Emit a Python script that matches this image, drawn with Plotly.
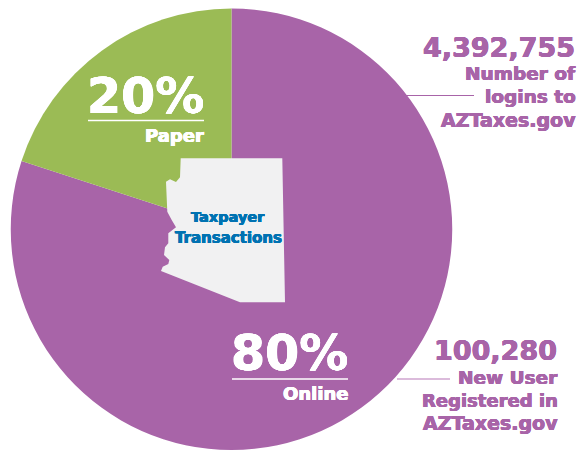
import plotly.graph_objects as go

W, H = 579, 450
categories = ["Online", "Paper"]
shares = [80, 20]
slice_colors = ["#A864A8", "#9BBB55"]
logins = "4,392,755"
new_users = "100,280"

PURPLE = "#A864A8"
BLUE = "#0072B2"
BOLD = "DejaVu Sans"


def px(x):
    return x / W


def py(y):
    return 1 - y / H


fig = go.Figure(go.Pie(
    labels=categories, values=shares, sort=False, direction="clockwise", rotation=0,
    marker=dict(colors=slice_colors, line=dict(width=0)),
    textinfo="none", hoverinfo="label+percent", showlegend=False,
    domain=dict(x=[px(10.5), px(452.5)], y=[py(450), py(8.5)]),
))

arizona = [(180.7, 158.3), (282.3, 158.3), (285, 302.3), (240, 302.3), (161, 271), (162.7, 266.7),
           (168.3, 264), (169.3, 260), (164, 255), (165, 247.3), (168.3, 243.3), (168.3, 233.3),
           (176, 227.3), (171.7, 220), (167.3, 211.7), (166.7, 198.3), (166, 181.7), (170, 179.3),
           (176, 182), (180, 177.3)]
path = "M " + " L ".join(f"{px(x):.5f},{py(y):.5f}" for x, y in arizona) + " Z"

shapes = [
    dict(type="path", xref="paper", yref="paper", path=path, fillcolor="#F1F1F2", line=dict(width=0), layer="above"),
    dict(type="line", xref="paper", yref="paper", x0=px(88), x1=px(204), y0=py(120.5), y1=py(120.5), line=dict(color="white", width=1.5)),
    dict(type="line", xref="paper", yref="paper", x0=px(232), x1=px(348), y0=py(379), y1=py(379), line=dict(color="white", width=1.5)),
    dict(type="line", xref="paper", yref="paper", x0=px(406), x1=px(474), y0=py(95.5), y1=py(95.5), line=dict(color=PURPLE, width=1)),
    dict(type="line", xref="paper", yref="paper", x0=px(397), x1=px(450), y0=py(379), y1=py(379), line=dict(color="#CFA5CF", width=1.5)),
]

# text, right/centre x, centre y, size, colour, anchor, family
labels = [
    ("20%", 205, 97, 49, "white", "right", BOLD),
    ("Paper", 205, 135, 18, "white", "right", BOLD),
    ("80%", 349, 353, 49, "white", "right", BOLD),
    ("Online", 349, 393, 18, "white", "right", BOLD),
    ("Taxpayer", 228, 217, 14.5, BLUE, "center", BOLD),
    ("Transactions", 228, 238, 15, BLUE, "center", BOLD),
    (logins, 576, 47, 27, PURPLE, "right", BOLD),
    ("Number of", 577, 73, 18.5, PURPLE, "right", BOLD),
    ("logins to", 577, 97, 18.5, PURPLE, "right", BOLD),
    ("AZTaxes.gov", 577, 120, 19, PURPLE, "right", BOLD),
    (new_users, 558, 350, 27, PURPLE, "right", BOLD),
    ("New User", 559, 377, 18.5, PURPLE, "right", BOLD),
    ("Registered in", 559, 400, 18, PURPLE, "right", BOLD),
    ("AZTaxes.gov", 559, 423, 19, PURPLE, "right", BOLD),
]


def heavy(c, d=0.4):
    return f"{d}px 0 0 {c}, -{d}px 0 0 {c}, 0 {d}px 0 {c}, 0 -{d}px 0 {c}"


annotations = [
    dict(text=f"<b>{t}</b>", xref="paper", yref="paper", x=px(x), y=py(y), xanchor=a, yanchor="middle",
         showarrow=False, borderpad=0, font=dict(size=s, color=c, family=f, shadow=heavy(c)))
    for t, x, y, s, c, a, f in labels
]

fig.update_layout(width=W, height=H, margin=dict(l=0, r=0, t=0, b=0), paper_bgcolor="white",
                  shapes=shapes, annotations=annotations)
fig.write_html("out.html", config={"displayModeBar": False},
               post_script="document.body.style.margin='0';document.documentElement.style.overflow='hidden';")
